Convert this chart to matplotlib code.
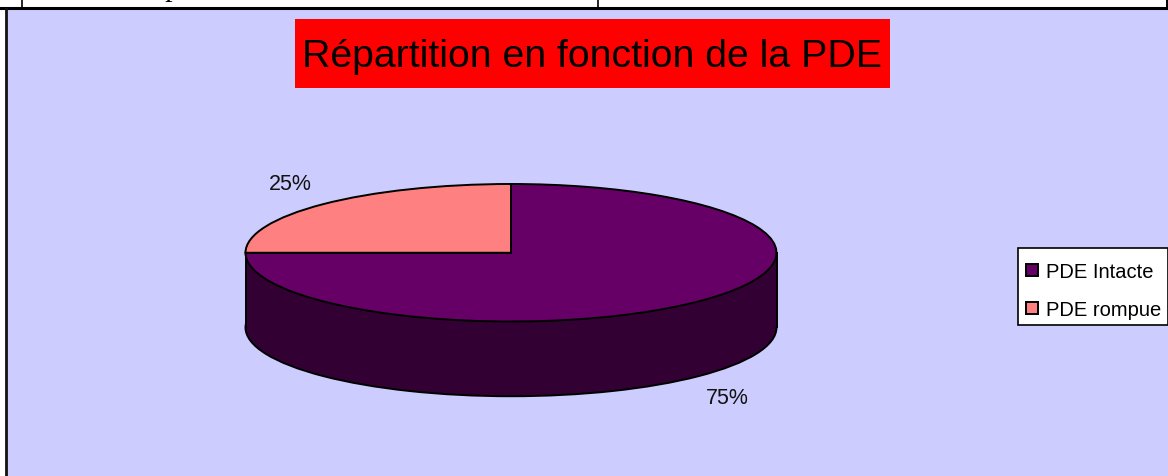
import matplotlib
matplotlib.use("Agg")
import matplotlib.pyplot as plt
from matplotlib.patches import Rectangle

labels = ["PDE Intacte", "PDE rompue"]
values = [75, 25]
pct_labels = ["75%", "25%"]
colors = ["#660066", "#FF8080"]
side_color = "#330033"
title = "Répartition en fonction de la PDE"
table_row = ["PDE rompue", "50"]

W, H = 1168, 477
plt.rcParams["font.family"] = ["Liberation Sans", "DejaVu Sans"]
fig = plt.figure(figsize=(W / 100, H / 100), dpi=100, facecolor="white")

def px_axes(x0, y0, x1, y1, **kw):
    return fig.add_axes([x0 / W, 1 - y1 / H, (x1 - x0) / W, (y1 - y0) / H], **kw)

# Chart background (behind the axes)
fig.add_artist(Rectangle((6 / W, 0), 1 - 6 / W, 1 - 10 / H, transform=fig.transFigure,
                         facecolor="#CCCCFF", edgecolor="none", zorder=-3))
for xs, ys, lw, c in [([0, 1 - 2 / W], [1 - 9 / H] * 2, 2.2, "black"),
                      ([6 / W, 6 / W], [0, 1 - 10 / H], 2.0, "#111111"),
                      ([22 / W, 22 / W], [1 - 9 / H, 1], 1.2, "black"),
                      ([597.5 / W, 597.5 / W], [1 - 9 / H, 1], 1.2, "black"),
                      ([1166.5 / W, 1166.5 / W], [1 - 9 / H, 1], 1.4, "black")]:
    fig.add_artist(plt.Line2D(xs, ys, color=c, lw=lw, transform=fig.transFigure, zorder=-2))

# Clipped table row above the chart
fig.text(208 / W, 1 + 4 / H, table_row[0], fontsize=21.5, family="Liberation Serif",
         ha="right", va="baseline", color="black")
fig.text(618 / W, 1 + 4 / H, table_row[1], fontsize=21.5, family="Liberation Serif",
         ha="left", va="baseline", color="black")

# Title
fig.add_artist(Rectangle((295 / W, 1 - 88.5 / H), 595 / W, 69 / H, transform=fig.transFigure,
                         facecolor="#FF0000", edgecolor="none", zorder=-1))
fig.text(592.5 / W, 1 - 57 / H, title, fontsize=28.3, color="black", ha="center", va="center")

# Pie: the axes box is exactly the top ellipse's bounding box
ax = px_axes(245.5, 185, 776.5, 322.5)
depth = 75 / 69
edge = {"edgecolor": "black", "linewidth": 1.4}
ax.pie([sum(values)], colors=[side_color], center=(0, -depth), radius=1, wedgeprops=edge)
ax.add_patch(Rectangle((-1, -depth), 2, depth, facecolor=side_color, edgecolor="none",
                       clip_on=False, zorder=2))
ax.plot([-1, -1], [-depth, 0], color="black", lw=1.4, clip_on=False, zorder=3)
ax.plot([1, 1], [-depth, 0], color="black", lw=1.4, clip_on=False, zorder=3)
wedges, _ = ax.pie(values, colors=colors, startangle=90, counterclock=False, radius=1,
                   wedgeprops=edge)
for w in wedges:
    w.set_zorder(4)
ax.set_aspect("auto")
ax.set_xlim(-1, 1)
ax.set_ylim(-1, 1)

# Percentage labels
fig.text(727.5 / W, 1 - 399 / H, pct_labels[0], fontsize=15.5, ha="center", va="center", color="#111111")
fig.text(290 / W, 1 - 185 / H, pct_labels[1], fontsize=15.5, ha="center", va="center", color="#111111")

# Legend
fig.add_artist(Rectangle((1017.5 / W, 1 - 326 / H), 150 / W, 77 / H, transform=fig.transFigure,
                         facecolor="white", edgecolor="black", linewidth=1.2))
for y, lab, col in zip([271, 309], labels, colors):
    fig.add_artist(Rectangle((1026 / W, 1 - (y + 6) / H), 12 / W, 12 / H, transform=fig.transFigure,
                             facecolor=col, edgecolor="black", linewidth=1.4))
    fig.text(1046 / W, 1 - (y + 1.5) / H, lab, fontsize=14.5, ha="left", va="center", color="black")

fig.savefig("out.png", dpi=100, facecolor="white")
